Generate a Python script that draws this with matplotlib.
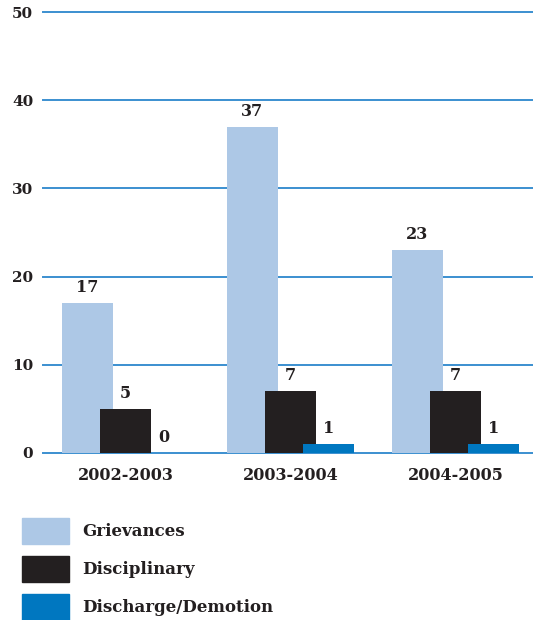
import numpy as np
import matplotlib.pyplot as plt
from matplotlib.patches import Rectangle

plt.rcParams['font.family'] = ['DejaVu Serif']

TEXT = '#231f20'
GRID = '#3b8fd0'

years = ['2002-2003', '2003-2004', '2004-2005']
series = ['Grievances', 'Disciplinary', 'Discharge/Demotion']
grievances = [17, 37, 23]
disciplinary = [5, 7, 7]
discharge = [0, 1, 1]
colors = ['#adc8e6', '#231f20', '#0077c0']

fig = plt.figure(figsize=(5.33, 6.2), dpi=100)
ax = fig.add_axes([43 / 533, 167 / 620, 490 / 533, 441 / 620])

x = np.arange(len(years))
width = 0.309
step = 0.233
for k, (vals, col) in enumerate(zip([grievances, disciplinary, discharge], colors)):
    pos = x + (k - 1) * step
    ax.bar(pos, vals, width=width, color=col, zorder=3 + k)
    for px, v in zip(pos, vals):
        ax.text(px, v + 0.8, str(v), ha='center', va='bottom', fontsize=11.5,
                fontweight='bold', color=TEXT, zorder=10)

ax.set_xlim(-0.5, 2.47)
ax.set_ylim(0, 50)
ax.set_yticks(range(0, 51, 10))
ax.yaxis.grid(True, color=GRID, linewidth=1.4)
for gl in ax.get_ygridlines():
    gl.set_clip_on(False)
ax.set_axisbelow(True)
for s in ax.spines.values():
    s.set_visible(False)
ax.tick_params(length=0, colors=TEXT)
ax.set_yticklabels([str(v) for v in range(0, 51, 10)], fontsize=11, fontweight='bold')
ax.tick_params(axis='y', pad=7)
ax.set_xticks(x)
ax.set_xticklabels(years, fontsize=11.5, fontweight='bold')
ax.tick_params(axis='x', pad=10)

# legend drawn by hand as stacked swatches
for i, (name, col) in enumerate(zip(series, colors)):
    y0 = 1 - (518 + 38 * i + 26) / 620
    fig.patches.append(Rectangle((22 / 533, y0), 47 / 533, 26 / 620,
                                 transform=fig.transFigure, color=col))
    fig.text(82 / 533, y0 + 13 / 620, name, fontsize=12, fontweight='bold',
             color=TEXT, va='center', ha='left')

fig.savefig('out.png', dpi=100)
